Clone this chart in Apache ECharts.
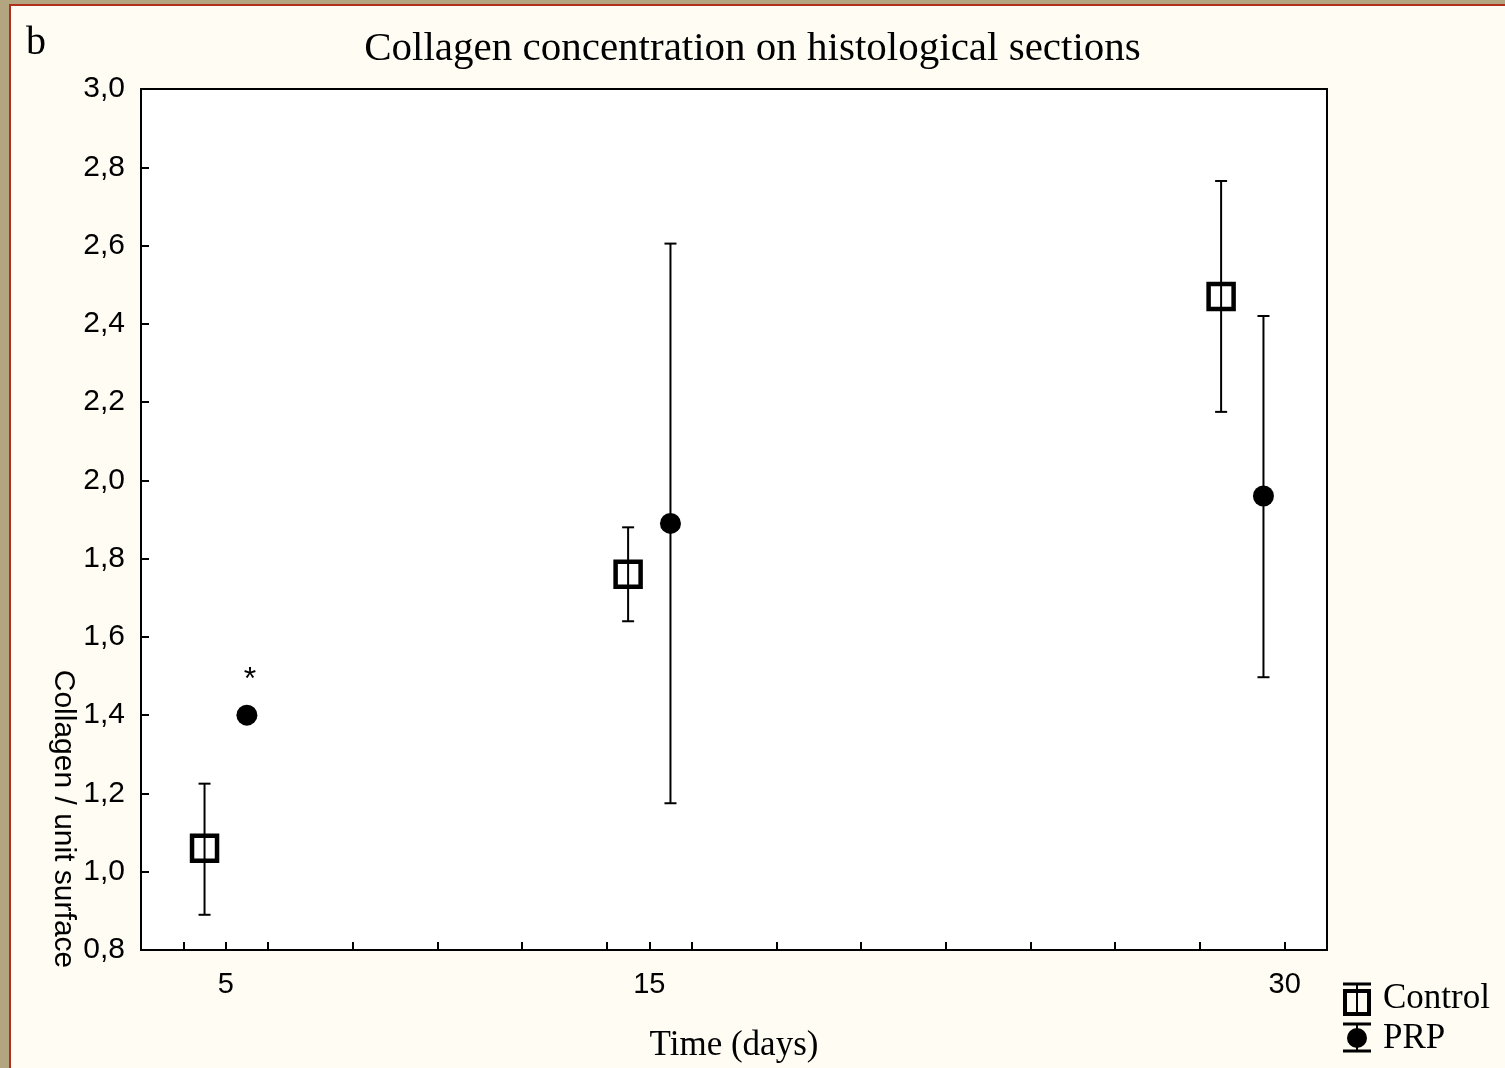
<!DOCTYPE html>
<html>
<head>
<meta charset="utf-8">
<script src="https://cdn.jsdelivr.net/npm/echarts@6/dist/echarts.min.js"></script>
<style>
  html, body { margin: 0; padding: 0; width: 1505px; height: 1068px; overflow: hidden; background: #b3a57f; }
  #panel { position: absolute; left: 9px; top: 4px; width: 1510px; height: 1080px; background: #fffcf4; border-left: 2px solid #b0301e; border-top: 2px solid #b0301e; box-sizing: border-box; }
  #chart { position: absolute; left: 0; top: 0; width: 1505px; height: 1068px; }
</style>
</head>
<body>
<div id="panel"></div>
<div id="chart"></div>
<script>
// ---- data ----
const days = [5, 15, 30];
const controlX = [4.5, 14.5, 28.5];
const prpX = [5.5, 15.5, 29.5];
const controlMean = [1.06, 1.76, 2.47];
const controlLow  = [0.89, 1.64, 2.175];
const controlHigh = [1.225, 1.88, 2.765];
const prpMean = [1.40, 1.89, 1.96];
const prpLow  = [1.385, 1.175, 1.497];
const prpHigh = [1.415, 2.605, 2.42];
const xTickValues = [4, 5, 6, 8, 10, 12, 14, 15, 16, 18, 20, 22, 24, 26, 28, 30];
const xLabelValues = [5, 15, 30];

const serif = '"Liberation Serif", "Times New Roman", serif';
const sans = '"Liberation Sans", Arial, sans-serif';

const controlPts = days.map((d, i) => [controlX[i], controlMean[i]]);
const prpPts = days.map((d, i) => {
  const item = { value: [prpX[i], prpMean[i]] };
  if (i === 0) {
    item.label = { show: true, formatter: '*', position: 'top', distance: 9, offset: [3, 0],
      fontSize: 32, fontFamily: sans, color: '#000' };
  }
  return item;
});
const controlErr = days.map((d, i) => [controlX[i], controlLow[i], controlHigh[i]]);
const prpErr = days.map((d, i) => [prpX[i], prpLow[i], prpHigh[i]]);

function errorBar(params, api) {
  const x = api.value(0);
  const lo = api.coord([x, api.value(1)]);
  const hi = api.coord([x, api.value(2)]);
  const cap = 6;
  const st = { stroke: '#000', lineWidth: 2 };
  return {
    type: 'group',
    children: [
      { type: 'line', shape: { x1: lo[0], y1: lo[1], x2: hi[0], y2: hi[1] }, style: st },
      { type: 'line', shape: { x1: hi[0] - cap, y1: hi[1], x2: hi[0] + cap, y2: hi[1] }, style: st },
      { type: 'line', shape: { x1: lo[0] - cap, y1: lo[1], x2: lo[0] + cap, y2: lo[1] }, style: st }
    ]
  };
}

const chart = echarts.init(document.getElementById('chart'), null, { renderer: 'canvas' });
chart.setOption({
  backgroundColor: 'transparent',
  animation: false,
  title: {
    text: 'Collagen concentration on histological sections',
    left: 'center', top: 24,
    textStyle: { fontFamily: serif, fontSize: 41, fontWeight: 'normal', color: '#000' }
  },
  grid: {
    left: 141, width: 1186, top: 89, height: 861,
    outerBoundsMode: 'none', containLabel: false,
    show: true, backgroundColor: '#fff', borderColor: '#000', borderWidth: 2
  },
  xAxis: {
    type: 'value', min: 3, max: 31,
    name: 'Time (days)', nameLocation: 'middle', nameGap: 78,
    nameTextStyle: { fontFamily: serif, fontSize: 35, color: '#000' },
    splitLine: { show: false },
    axisLine: { show: true, onZero: false, lineStyle: { color: '#000', width: 2 } },
    axisTick: { show: true, inside: true, length: 8, customValues: xTickValues, lineStyle: { color: '#000', width: 2 } },
    axisLabel: { customValues: xLabelValues, margin: 20, fontFamily: sans, fontSize: 29, color: '#000' }
  },
  yAxis: {
    type: 'value', min: 0.8, max: 3.0, interval: 0.2,
    splitLine: { show: false },
    axisLine: { show: true, onZero: false, lineStyle: { color: '#000', width: 2 } },
    axisTick: { show: true, inside: true, length: 8, lineStyle: { color: '#000', width: 2 } },
    axisLabel: {
      margin: 16, fontFamily: sans, fontSize: 30, color: '#000',
      formatter: v => v.toFixed(1).replace('.', ',')
    }
  },
  series: [
    { name: 'Control err', type: 'custom', renderItem: errorBar, data: controlErr,
      encode: { x: 0, y: [1, 2] }, z: 2, silent: true },
    { name: 'PRP err', type: 'custom', renderItem: errorBar, data: prpErr,
      encode: { x: 0, y: [1, 2] }, z: 2, silent: true },
    { name: 'Control', type: 'scatter', data: controlPts, symbol: 'rect', symbolSize: 25, z: 3,
      itemStyle: { color: 'rgba(0,0,0,0)', borderColor: '#000', borderWidth: 4.5, opacity: 1 } },
    { name: 'PRP', type: 'scatter', data: prpPts, symbol: 'circle', symbolSize: 21, z: 3,
      itemStyle: { color: '#000', opacity: 1 } }
  ],
  graphic: [
    { type: 'text', left: 26, top: 23, style: { text: 'b', fontFamily: serif, fontSize: 40, fill: '#000' } },
    { type: 'text', x: 63, y: 819, rotation: -Math.PI / 2,
      style: { text: 'Collagen / unit surface', fontFamily: sans, fontSize: 30, fill: '#000',
        textAlign: 'center', textVerticalAlign: 'middle' } },
    // legend: Control
    { type: 'line', shape: { x1: 1343, y1: 984, x2: 1371, y2: 984 }, style: { stroke: '#000', lineWidth: 3 } },
    { type: 'line', shape: { x1: 1357, y1: 984, x2: 1357, y2: 1014 }, style: { stroke: '#000', lineWidth: 2 } },
    { type: 'rect', shape: { x: 1345, y: 991, width: 24, height: 23 }, style: { fill: 'none', stroke: '#000', lineWidth: 4 } },
    { type: 'text', x: 1383, y: 999, style: { text: 'Control', fontFamily: serif, fontSize: 35, fill: '#000', textVerticalAlign: 'middle' } },
    // legend: PRP
    { type: 'line', shape: { x1: 1343, y1: 1024, x2: 1371, y2: 1024 }, style: { stroke: '#000', lineWidth: 3 } },
    { type: 'line', shape: { x1: 1357, y1: 1024, x2: 1357, y2: 1051 }, style: { stroke: '#000', lineWidth: 2 } },
    { type: 'line', shape: { x1: 1343, y1: 1051, x2: 1371, y2: 1051 }, style: { stroke: '#000', lineWidth: 3 } },
    { type: 'circle', shape: { cx: 1357, cy: 1038, r: 10 }, style: { fill: '#000' } },
    { type: 'text', x: 1383, y: 1039, style: { text: 'PRP', fontFamily: serif, fontSize: 35, fill: '#000', textVerticalAlign: 'middle' } }
  ]
});
</script>
</body>
</html>
